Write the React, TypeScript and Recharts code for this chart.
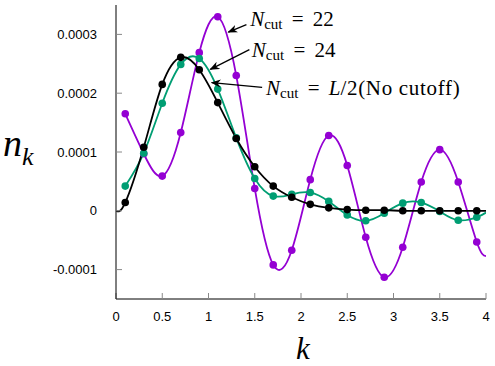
import { LineChart, Line, XAxis, YAxis } from "recharts";

// sampled momenta
const kValues = [0.1, 0.3, 0.5, 0.7, 0.9, 1.1, 1.3, 1.5, 1.7, 1.9, 2.1, 2.3, 2.5, 2.7, 2.9, 3.1, 3.3, 3.5, 3.7, 3.9];

// N_cut = 22
const n22 = [
  1.65e-4, 0.97e-4, 0.59e-4, 1.33e-4, 2.69e-4, 3.3e-4, 2.3e-4, 0.38e-4, -0.92e-4, -0.67e-4,
  0.53e-4, 1.28e-4, 0.77e-4, -0.45e-4, -1.13e-4, -0.62e-4, 0.49e-4, 1.04e-4, 0.49e-4, -0.53e-4,
];
// N_cut = 24
const n24 = [
  0.42e-4, 0.98e-4, 1.83e-4, 2.49e-4, 2.59e-4, 2.07e-4, 1.24e-4, 0.55e-4, 0.25e-4, 0.28e-4,
  0.31e-4, 0.16e-4, -0.07e-4, -0.17e-4, -0.04e-4, 0.13e-4, 0.14e-4, -0.01e-4, -0.16e-4, -0.11e-4,
];
// N_cut = L/2 (no cutoff)
const nFull = [
  0.14e-4, 1.08e-4, 2.15e-4, 2.61e-4, 2.4e-4, 1.84e-4, 1.23e-4, 0.75e-4, 0.42e-4, 0.23e-4,
  0.11e-4, 0.05e-4, 0.02e-4, 0.01e-4, 0.01e-4, 0.0, 0.0, 0.0, 0.0, 0.0,
];

// fitted curves run to the frame edges (no markers there)
const startFull = 0;
const end22 = -0.77e-4;
const end24 = -0.03e-4;
const endFull = 0;

const xTicks = [0, 0.5, 1, 1.5, 2, 2.5, 3, 3.5, 4];
const yTicks = [-0.0001, 0, 0.0001, 0.0002, 0.0003];

const X_DOMAIN = [0, 4];
const Y_DOMAIN = [-0.00015, 0.00035];

const W = 495;
const H = 366;
const PLOT = { left: 116, right: 486, top: 5, bottom: 299 };

const PURPLE = "#9400d3";
const GREEN = "#009e73";
const BLACK = "#000000";

type Row = { k: number; n22: number | null; n24: number | null; full: number | null; edge?: boolean };

const rows: Row[] = [
  { k: 0, n22: null, n24: null, full: startFull, edge: true },
  ...kValues.map((k, i) => ({ k, n22: n22[i], n24: n24[i], full: nFull[i] })),
  { k: 4, n22: end22, n24: end24, full: endFull, edge: true },
];

// annotations in data coordinates
const labels = [
  { rest: "22", at: [1.45, 0.000315], tail: [1.41, 0.0003165], tip: [1.215, 0.000304] },
  { rest: "24", at: [1.468, 0.000261], tail: [1.442, 0.000274], tip: [1.02, 0.0002405] },
  { rest: "L", at: [1.622, 0.000197], tail: [1.58, 0.00021], tip: [1.035, 0.000218] },
];

const px = (k: number) => PLOT.left + ((k - X_DOMAIN[0]) / (X_DOMAIN[1] - X_DOMAIN[0])) * (PLOT.right - PLOT.left);
const py = (v: number) => PLOT.top + ((Y_DOMAIN[1] - v) / (Y_DOMAIN[1] - Y_DOMAIN[0])) * (PLOT.bottom - PLOT.top);

const dotFor = (color: string) => (props: any) => {
  const { cx, cy, payload, index } = props;
  if (payload?.edge || cx == null || cy == null) return <g key={index} />;
  return <circle key={index} cx={cx} cy={cy} r={3.8} fill={color} stroke="none" />;
};

const fmtY = (v: number) => (v === 0 ? "0" : v.toFixed(4));

const tickStyle = { fill: "#000", fontSize: 13, fontFamily: "Liberation Sans, Arial, sans-serif" };
const serif = "Liberation Serif, Times New Roman, serif";

function Annotations() {
  return (
    <svg width={W} height={H} style={{ position: "absolute", left: 0, top: 0, pointerEvents: "none" }}>
      <defs>
        <marker id="arrowhead" markerWidth="10" markerHeight="8" refX="9" refY="4" orient="auto" markerUnits="userSpaceOnUse">
          <path d="M0,0 L10,4 L0,8 L3,4 Z" fill="#000" />
        </marker>
      </defs>
      {labels.map((l) => (
        <g key={l.rest}>
          <line
            x1={px(l.tail[0])}
            y1={py(l.tail[1])}
            x2={px(l.tip[0])}
            y2={py(l.tip[1])}
            stroke="#000"
            strokeWidth={1.3}
            markerEnd="url(#arrowhead)"
          />
          <text x={px(l.at[0])} y={py(l.at[1])} fontFamily={serif} fontSize={21} fill="#000">
            <tspan fontStyle="italic">N</tspan>
            <tspan fontSize={15} dy={3}>cut</tspan>
            <tspan dy={-3} dx={4}> =</tspan>
            {l.rest === "L" ? (
              <>
                <tspan dx={4} fontStyle="italic"> L</tspan>
                <tspan letterSpacing={0.7}>/2(No cutoff)</tspan>
              </>
            ) : (
              <tspan dx={4}> {l.rest}</tspan>
            )}
          </text>
        </g>
      ))}
      <text x={3} y={156} fontFamily={serif} fontSize={38} fontStyle="italic" fill="#000">
        n<tspan fontSize={26} dy={9}>k</tspan>
      </text>
      <text x={303} y={359} fontFamily={serif} fontSize={31} fontStyle="italic" fill="#000" textAnchor="middle">
        k
      </text>
    </svg>
  );
}

export default function App() {
  return (
    <div style={{ position: "absolute", left: 0, top: 0, width: W, height: H, background: "#fff" }}>
      <LineChart
        width={W}
        height={H}
        data={rows}
        margin={{ top: PLOT.top, right: W - PLOT.right, bottom: 0, left: 0 }}
      >
        <XAxis
          xAxisId="bottom"
          dataKey="k"
          type="number"
          domain={X_DOMAIN}
          ticks={xTicks}
          allowDataOverflow
          height={H - PLOT.bottom}
          tickSize={-6}
          tickMargin={19}
          tick={tickStyle}
          tickLine={{ stroke: "#888" }}
          axisLine={{ stroke: "#000" }}
        />
        <XAxis
          xAxisId="top"
          orientation="top"
          dataKey="k"
          type="number"
          domain={X_DOMAIN}
          ticks={xTicks}
          allowDataOverflow
          height={0}
          tickSize={-6}
          tickFormatter={() => ""}
          tickLine={{ stroke: "#888" }}
          axisLine={{ stroke: "#000" }}
        />
        <YAxis
          yAxisId="left"
          type="number"
          domain={Y_DOMAIN}
          ticks={yTicks}
          allowDataOverflow
          width={PLOT.left}
          tickSize={-6}
          tickMargin={25}
          tickFormatter={fmtY}
          tick={tickStyle}
          tickLine={{ stroke: "#888" }}
          axisLine={{ stroke: "#000" }}
        />
        <YAxis
          yAxisId="right"
          orientation="right"
          type="number"
          domain={Y_DOMAIN}
          ticks={yTicks}
          allowDataOverflow
          width={0}
          tickSize={-6}
          tickFormatter={() => ""}
          tickLine={{ stroke: "#888" }}
          axisLine={{ stroke: "#000" }}
        />
        <Line
          xAxisId="bottom"
          yAxisId="left"
          type="natural"
          dataKey="n22"
          stroke={PURPLE}
          strokeWidth={1.8}
          dot={dotFor(PURPLE)}
          activeDot={false}
          isAnimationActive={false}
        />
        <Line
          xAxisId="bottom"
          yAxisId="left"
          type="natural"
          dataKey="n24"
          stroke={GREEN}
          strokeWidth={1.8}
          dot={dotFor(GREEN)}
          activeDot={false}
          isAnimationActive={false}
        />
        <Line
          xAxisId="bottom"
          yAxisId="left"
          type="natural"
          dataKey="full"
          stroke={BLACK}
          strokeWidth={1.8}
          dot={dotFor(BLACK)}
          activeDot={false}
          isAnimationActive={false}
        />
      </LineChart>
      <Annotations />
    </div>
  );
}
